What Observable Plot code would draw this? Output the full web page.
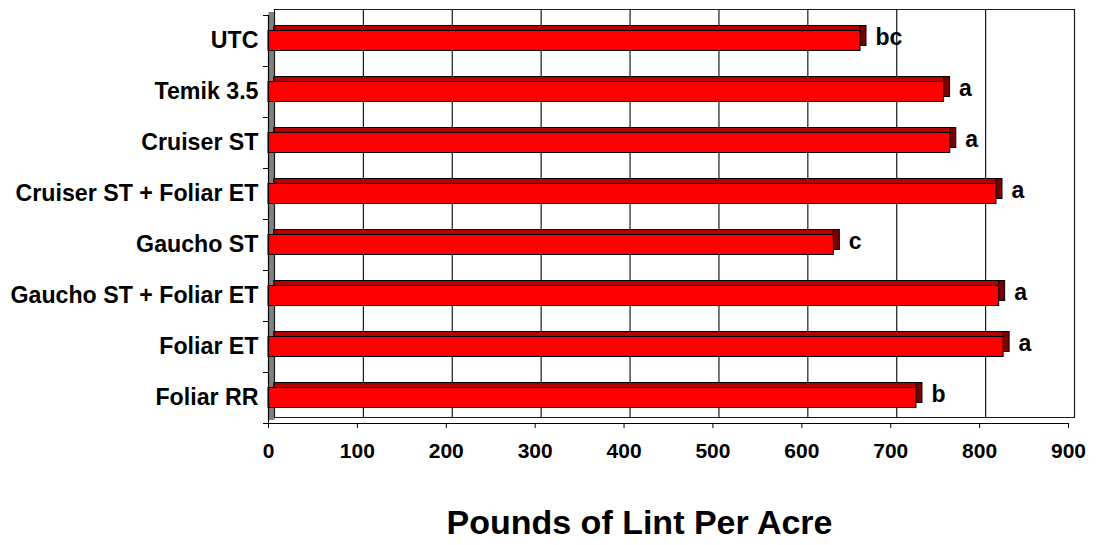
<!DOCTYPE html>
<html>
<head>
<meta charset="utf-8">
<script src="https://cdn.jsdelivr.net/npm/d3@7"></script>
<script src="https://cdn.jsdelivr.net/npm/@observablehq/plot@0.6"></script>
<style>
  html, body { margin: 0; padding: 0; background: #fff; }
  #chart svg { display: block; }
</style>
</head>
<body>
<div id="chart"></div>
<script>
const categories = ["UTC", "Temik 3.5", "Cruiser ST", "Cruiser ST + Foliar ET", "Gaucho ST", "Gaucho ST + Foliar ET", "Foliar ET", "Foliar RR"];
const yields = [666, 760, 767, 819, 636, 822, 827, 729];
const letters = ["bc", "a", "a", "a", "c", "a", "a", "b"];
const xTicks = [0, 100, 200, 300, 400, 500, 600, 700, 800, 900];
const axisTitle = "Pounds of Lint Per Acre";

const data = categories.map((c, i) => ({category: c, value: yields[i], letter: letters[i]}));

const font = "'Liberation Sans', Arial, sans-serif";
const DX = 6, DY = -6;
const barInset = 15.5;

const chart = Plot.plot({
  width: 1096,
  height: 545,
  marginTop: 15,
  marginBottom: 122,
  marginLeft: 268,
  marginRight: 28,
  style: {fontFamily: font, background: "#fff"},
  x: {domain: [0, 900], axis: null, label: null},
  y: {domain: categories, padding: 0, axis: null, label: null},
  marks: [
    // left wall (3D)
    Plot.ruleX([0], {stroke: "#808080", strokeWidth: 6, dx: DX / 2, dy: DY / 2}),
    // back wall gridlines
    Plot.ruleX(xTicks, {stroke: "#1a1a1a", strokeWidth: 1.2, dx: DX, dy: DY}),
    Plot.frame({anchor: "top", stroke: "#1a1a1a", strokeWidth: 1.2, dx: DX, dy: DY}),
    Plot.frame({anchor: "bottom", stroke: "#1a1a1a", strokeWidth: 1, dx: DX, dy: DY}),
    // bar side face
    Plot.barX(data, {x: "value", y: "category", fill: "#7a0000", stroke: "#000", strokeWidth: 1,
      insetTop: barInset, insetBottom: barInset, dx: 6, dy: -5}),
    // bar top face
    Plot.barX(data, {x: "value", y: "category", fill: "#b30000", stroke: "#000", strokeWidth: 1,
      insetTop: barInset, insetBottom: barInset, insetRight: 6, dx: 6, dy: -5}),
    // bar front face
    Plot.barX(data, {x: "value", y: "category", fill: "#ff0000", stroke: "#000", strokeWidth: 1,
      insetTop: barInset, insetBottom: barInset}),
    // front axis lines
    Plot.frame({anchor: "bottom", stroke: "#000", strokeWidth: 1.2}),
    Plot.frame({anchor: "left", stroke: "#000", strokeWidth: 1.2}),
    // x axis
    Plot.axisX({ticks: xTicks, tickSize: 5, tickPadding: 15, fontSize: 21, fontWeight: "bold",
      label: null, tickFormat: d => String(d), style: {letterSpacing: "1.5px"}}),
    // y axis labels
    Plot.axisY({tickSize: 0, tickPadding: 10, fontSize: 23.2, fontWeight: "bold", label: null}),
    // y axis boundary ticks
    Plot.axisY({tickSize: 5, tickFormat: () => "", dy: -25.5, label: null}),
    Plot.axisY({ticks: [categories[categories.length - 1]], tickSize: 5, tickFormat: () => "", dy: 25.5, label: null}),
    // significance letters
    Plot.text(data, {x: "value", y: "category", text: "letter", textAnchor: "start", dx: 15, dy: -3,
      fontSize: 23, fontWeight: "bold", fill: "#000"}),
    // axis title
    Plot.text([axisTitle], {frameAnchor: "bottom", lineAnchor: "middle", dy: 100, dx: -29,
      fontSize: 34, fontWeight: "bold", fill: "#000"})
  ]
});

document.getElementById("chart").appendChild(chart);
</script>
</body>
</html>
